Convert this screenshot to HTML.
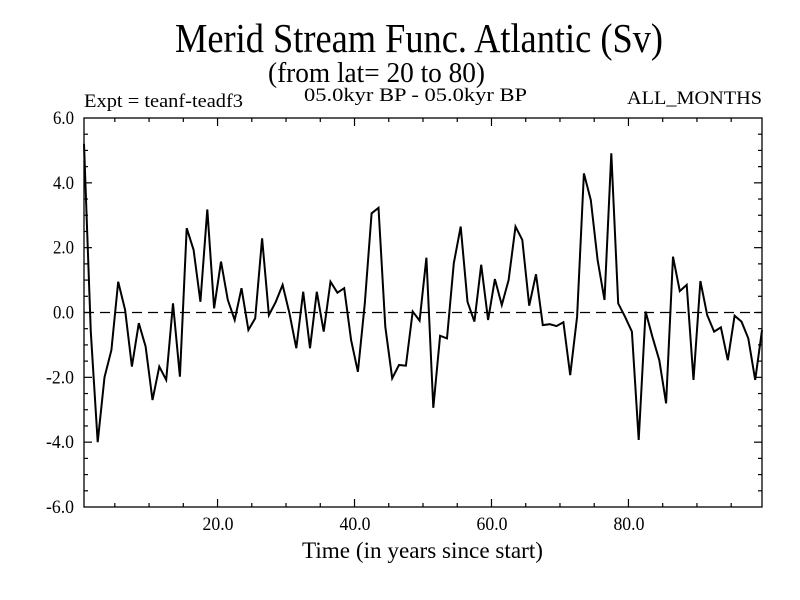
<!DOCTYPE html>
<html><head><meta charset="utf-8"><style>
html,body{margin:0;padding:0;background:#fff}
svg{display:block}
text{font-family:"Liberation Serif",serif;fill:#000}
</style></head><body>
<svg id="chart" width="800" height="600" viewBox="0 0 800 600" xmlns="http://www.w3.org/2000/svg">
<text x="175" y="52" font-size="41" textLength="488" lengthAdjust="spacingAndGlyphs">Merid Stream Func. Atlantic (Sv)</text>
<text x="268" y="82" font-size="28" textLength="217" lengthAdjust="spacingAndGlyphs">(from lat= 20 to 80)</text>
<text x="84" y="107" font-size="19" textLength="159" lengthAdjust="spacingAndGlyphs">Expt = teanf-teadf3</text>
<text x="304" y="101" font-size="19" textLength="223" lengthAdjust="spacingAndGlyphs">05.0kyr BP - 05.0kyr BP</text>
<text x="627" y="104" font-size="19" textLength="135" lengthAdjust="spacingAndGlyphs">ALL_MONTHS</text>
<text x="302" y="558" font-size="23" textLength="241" lengthAdjust="spacingAndGlyphs">Time (in years since start)</text>
<g id="axes"></g>
<rect x="84" y="118" width="678" height="389" fill="none" stroke="#000" stroke-width="1.3"/>
</svg>
<script>
const years = [];
const values = [5.2,-0.6,-4.0,-2.0,-1.16,0.95,0.08,-1.67,-0.33,-1.05,-2.7,-1.67,-2.08,0.28,-1.98,2.6,1.93,0.33,3.18,0.13,
1.57,0.39,-0.23,0.75,-0.54,-0.18,2.29,-0.08,0.33,0.85,-0.03,-1.1,0.64,-1.1,0.64,-0.59,0.95,0.61,0.75,-0.85,
-1.83,0.28,3.06,3.23,-0.44,-2.03,-1.62,-1.64,0.03,-0.25,1.69,-2.94,-0.72,-0.8,1.52,2.65,0.33,-0.28,1.47,-0.23,
1.03,0.23,1.0,2.65,2.24,0.21,1.18,-0.39,-0.36,-0.42,-0.3,-1.93,-0.13,4.29,3.47,1.62,0.39,4.91,0.28,-0.13,
-0.59,-3.93,0.03,-0.75,-1.47,-2.8,1.72,0.66,0.85,-2.08,0.97,-0.08,-0.59,-0.46,-1.47,-0.1,-0.28,-0.8,-2.08,-0.55];
for (let i = 0; i < values.length; i++) years.push(i + 0.5);
const xTickLabels = ["20.0","40.0","60.0","80.0"];
const xTickValues = [20,40,60,80];
const yTickLabels = ["6.0","4.0","2.0","0.0","-2.0","-4.0","-6.0"];
const yTickValues = [6,4,2,0,-2,-4,-6];

const X0=84,X1=762,Y0=118,Y1=507,xmin=0.5,xmax=99.5,ymin=-6,ymax=6;
const sx=v=>X0+(v-xmin)/(xmax-xmin)*(X1-X0);
const sy=v=>Y1-(v-ymin)/(ymax-ymin)*(Y1-Y0);
const NS="http://www.w3.org/2000/svg";
const g=document.getElementById('axes');
function mk(t,a){const e=document.createElementNS(NS,t);for(const k in a)e.setAttribute(k,a[k]);g.appendChild(e);return e;}

for(let v=5;v<xmax;v+=5){
  const x=sx(v),L=(v%20===0)?8:4;
  const t1=mk('line',{x1:x,x2:x,y1:Y1,y2:Y1-L,stroke:'#000','stroke-width':1.2});
  
  
  const t2=mk('line',{x1:x,x2:x,y1:Y0,y2:Y0+L,stroke:'#000','stroke-width':1.2});
  
  
}
for(let v=-5.5;v<6;v+=0.5){
  const y=sy(v),L=(Math.abs(v%2)<1e-6)?8:4;
  const t1=mk('line',{x1:X0,x2:X0+L,y1:y,y2:y,stroke:'#000','stroke-width':1.2});
  
  
  const t2=mk('line',{x1:X1,x2:X1-L,y1:y,y2:y,stroke:'#000','stroke-width':1.2});
  
  
}
xTickLabels.forEach((s,i)=>{
  const t=mk('text',{x:sx(xTickValues[i])-15,y:530,'font-size':19,textLength:31,lengthAdjust:'spacingAndGlyphs'});
  t.textContent=s;
  
  
});
yTickLabels.forEach((s,i)=>{
  const w=s.length*7;
  const t=mk('text',{x:74-w,y:sy(yTickValues[i])+6,'font-size':19,textLength:w,lengthAdjust:'spacingAndGlyphs'});
  t.textContent=s;
  
  
});
const z=mk('line',{x1:X0,x2:X1,y1:sy(0),y2:sy(0),stroke:'#000','stroke-width':1.2,'stroke-dasharray':'10,6'});


const pts=years.map((t,i)=>sx(t).toFixed(1)+','+sy(values[i]).toFixed(1)).join(' ');
const p=mk('polyline',{points:pts,fill:'none',stroke:'#000','stroke-width':2,'stroke-linejoin':'miter'});


</script>
</body></html>
